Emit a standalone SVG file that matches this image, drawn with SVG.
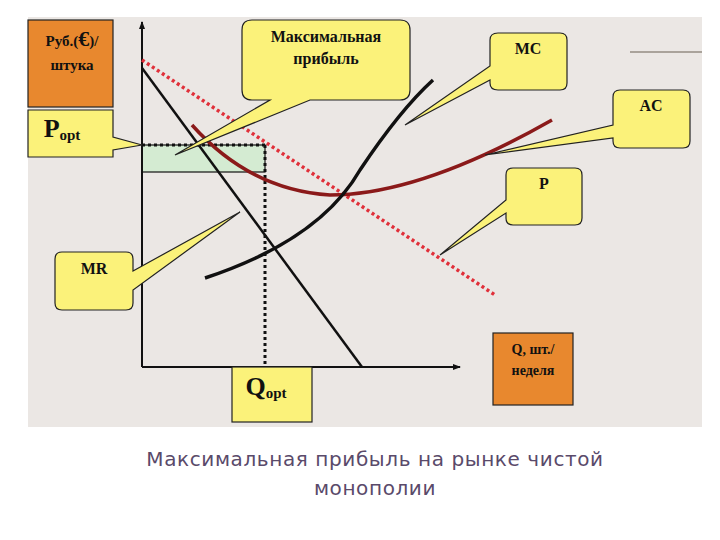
<svg xmlns="http://www.w3.org/2000/svg" width="720" height="540" viewBox="0 0 720 540">
<defs>
<style>
.y{fill:#fbf27a;stroke:#222;stroke-width:1.2}
.o{fill:#e8882e;stroke:#222;stroke-width:1.2}
.t{font-family:"Liberation Serif",serif;font-weight:bold;fill:#111;text-anchor:middle}
.cap{font-family:"DejaVu Sans",sans-serif;font-size:20px;fill:#5a4a6a;text-anchor:middle;letter-spacing:0.6px}
</style>
<marker id="ah" markerWidth="8" markerHeight="8" refX="7" refY="4" orient="auto" markerUnits="userSpaceOnUse"><path d="M0,1 L8,4 L0,7z" fill="#111"/></marker>
</defs>
<rect x="0" y="0" width="720" height="540" fill="#fff"/>
<rect x="28" y="17" width="674" height="410" fill="#ebe7e4"/>
<line x1="630" y1="52" x2="702" y2="52" stroke="#aaa39b" stroke-width="2"/>
<g id="connectors" fill="none">
<rect x="142" y="145" width="123" height="27" fill="#d4ebd2" stroke="#111" stroke-width="1.2"/>
<line x1="142" y1="367" x2="142" y2="22" stroke="#111" stroke-width="2" marker-end="url(#ah)"/>
<line x1="142" y1="367" x2="460" y2="367" stroke="#111" stroke-width="2" marker-end="url(#ah)"/>
<line x1="142" y1="145" x2="265" y2="145" stroke="#111" stroke-width="3" stroke-dasharray="3,3"/>
<line x1="265" y1="145" x2="265" y2="367" stroke="#111" stroke-width="3" stroke-dasharray="3,3"/>
<line x1="142" y1="68" x2="362" y2="367" stroke="#111" stroke-width="2.5"/>
<line x1="142" y1="60" x2="495" y2="295" stroke="#e0303a" stroke-width="3.5" stroke-dasharray="3,3"/>
<path d="M192,125 Q250,190 330,195 Q420,195 552,120" stroke="#8b1a1a" stroke-width="3.5"/>
<path d="M205,278 Q320,240 360,170 Q400,110 433,80" stroke="#111" stroke-width="3.5"/>
</g>
<g id="rub"><rect class="o" x="28" y="20" width="85" height="87"/><text class="t" x="72" y="46" font-size="15">Руб.(<tspan font-size="22">€</tspan>)/</text><text class="t" x="72" y="70" font-size="15">штука</text></g>
<g id="popt"><path class="y" d="M28,110 H113 V137 L142,145 L113,150 V157 H28 Z"/><text class="t" x="62" y="137" font-size="26">P<tspan font-size="15" dy="3">opt</tspan></text></g>
<g id="maxprofit"><path class="y" d="M252,20 H400 Q410,20 410,30 V90 Q410,100 400,100 H310 L175,155 L270,100 H252 Q242,100 242,90 V30 Q242,20 252,20 Z"/><text class="t" x="326" y="42" font-size="16">Максимальная</text><text class="t" x="326" y="64" font-size="16">прибыль</text></g>
<g id="mc"><path class="y" d="M498,33 H560 Q567,33 567,40 V83 Q567,90 560,90 H498 Q490,90 490,83 V80 L405,125 L490,66 V40 Q490,33 498,33 Z"/><text class="t" x="528" y="54" font-size="16">MC</text></g>
<g id="ac"><path class="y" d="M620,90 H683 Q690,90 690,97 V141 Q690,148 683,148 H620 Q613,148 613,141 V138 L485,155 L613,125 V97 Q613,90 620,90 Z"/><text class="t" x="651" y="111" font-size="16">AC</text></g>
<g id="p"><path class="y" d="M513,168 H575 Q582,168 582,175 V218 Q582,225 575,225 H513 Q506,225 506,218 V213 L440,255 L506,200 V175 Q506,168 513,168 Z"/><text class="t" x="544" y="189" font-size="16">P</text></g>
<g id="mr"><path class="y" d="M62,252 H126 Q133,252 133,259 V271 L240,212 L133,290 V303 Q133,310 126,310 H62 Q55,310 55,303 V259 Q55,252 62,252 Z"/><text class="t" x="94" y="274" font-size="16">MR</text></g>
<g id="qopt"><rect class="y" x="232" y="367" width="80" height="55"/><text class="t" x="266" y="395" font-size="26">Q<tspan font-size="15" dy="3">opt</tspan></text></g>
<g id="q"><rect class="o" x="493" y="333" width="80" height="72"/><text class="t" x="533" y="354" font-size="14">Q, шт./</text><text class="t" x="533" y="375" font-size="14">неделя</text></g>
<text class="cap" x="375" y="466">Максимальная прибыль на рынке чистой</text>
<text class="cap" x="375" y="495">монополии</text>
</svg>
